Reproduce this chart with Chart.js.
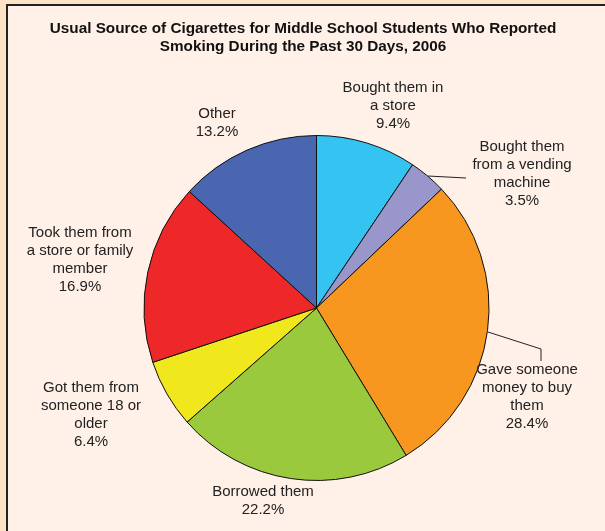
<!DOCTYPE html>
<html>
<head>
<meta charset="utf-8">
<script src="https://cdn.jsdelivr.net/npm/chart.js"></script>
<style>
  html, body { margin: 0; padding: 0; background: #fde2c6; }
  #wrap { width: 605px; height: 531px; position: relative; }
</style>
</head>
<body>
<div id="wrap"><canvas id="pie" width="605" height="531"></canvas></div>
<script>
// data
const categories = [
  ["Bought them in", "a store"],
  ["Bought them", "from a vending", "machine"],
  ["Gave someone", "money to buy", "them"],
  ["Borrowed them"],
  ["Got them from", "someone 18 or", "older"],
  ["Took them from", "a store or family", "member"],
  ["Other"]
];
const percents = [9.4, 3.5, 28.4, 22.2, 6.4, 16.9, 13.2];
const sliceColors = ["#35c4f1", "#9896ca", "#f7971f", "#9bc93d", "#f0e71d", "#ee2828", "#4a66b0"];

const titleLines = [
  "Usual Source of Cigarettes for Middle School Students Who Reported",
  "Smoking During the Past 30 Days, 2006"
];

// label placement (center x, y of first line)
const labelPos = [
  [393, 88], [522, 147], [527, 370], [263, 492], [91, 388], [80, 233], [217, 114]
];
// leader lines for the two labels that need them
const leaders = {
  1: [[428, 176], [466, 178]],
  2: [[488, 332], [541, 349], [541, 361]]
};

const lineH = 18;

const decor = {
  id: "decor",
  beforeDraw(chart) {
    const c = chart.ctx;
    c.save();
    c.fillStyle = "#fde2c6";
    c.fillRect(0, 0, 605, 531);
    c.fillStyle = "#fff1e8";
    c.fillRect(6, 4, 605, 531);
    c.strokeStyle = "#222";
    c.lineWidth = 2;
    c.beginPath();
    c.moveTo(7, 540);
    c.lineTo(7, 5);
    c.lineTo(610, 5);
    c.stroke();
    // title
    c.fillStyle = "#111";
    c.font = "bold 15.3px 'Liberation Sans', Arial, sans-serif";
    c.textAlign = "center";
    c.textBaseline = "middle";
    c.fillText(titleLines[0], 303, 29);
    c.fillText(titleLines[1], 303, 47);
    c.restore();
  },
  afterDraw(chart) {
    const c = chart.ctx;
    c.save();
    c.strokeStyle = "#222";
    c.lineWidth = 1;
    Object.values(leaders).forEach(pts => {
      c.beginPath();
      pts.forEach((p, i) => i ? c.lineTo(p[0], p[1]) : c.moveTo(p[0], p[1]));
      c.stroke();
    });
    c.fillStyle = "#222";
    c.font = "15px 'Liberation Sans', Arial, sans-serif";
    c.textAlign = "center";
    c.textBaseline = "middle";
    categories.forEach((lines, i) => {
      const [x, y] = labelPos[i];
      const all = lines.concat([percents[i].toFixed(1) + "%"]);
      all.forEach((t, j) => c.fillText(t, x, y + j * lineH));
    });
    c.restore();
  }
};

new Chart(document.getElementById("pie").getContext("2d"), {
  type: "pie",
  data: {
    labels: categories.map(l => l.join(" ")),
    datasets: [{
      data: percents,
      backgroundColor: sliceColors,
      borderColor: "#111",
      borderWidth: 1
    }]
  },
  options: {
    responsive: false,
    animation: false,
    layout: { padding: { left: 143, right: 115, top: 135, bottom: 50 } },
    plugins: {
      legend: { display: false },
      tooltip: { enabled: false }
    }
  },
  plugins: [decor]
});
</script>
</body>
</html>
